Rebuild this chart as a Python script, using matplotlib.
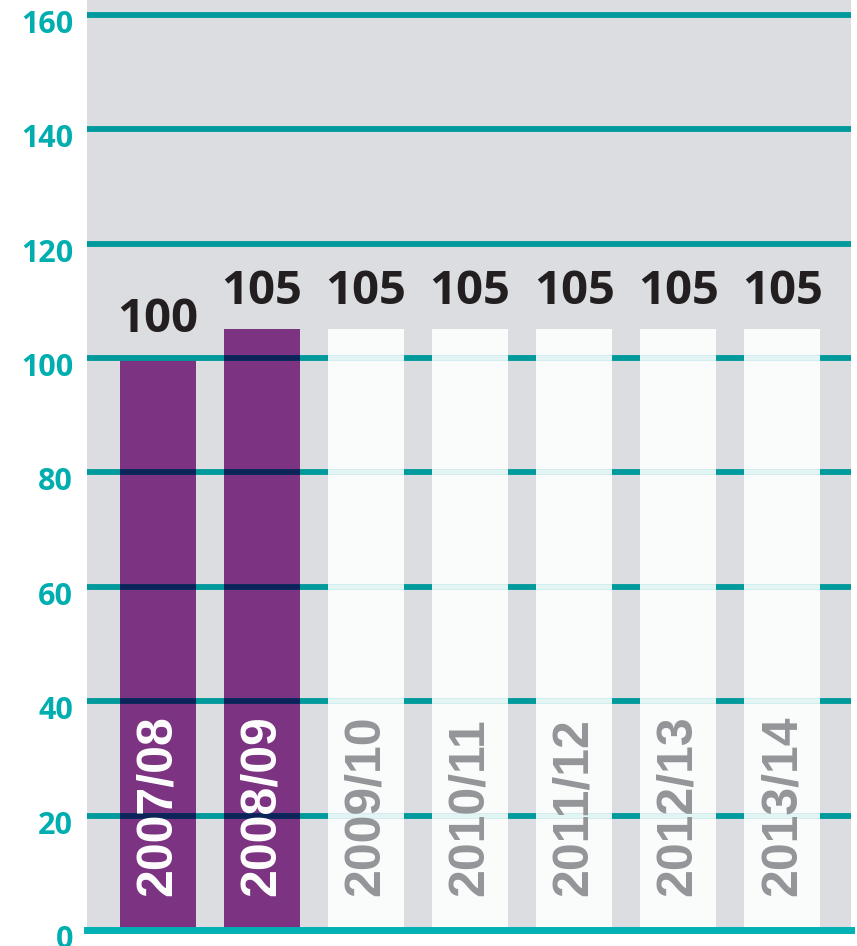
import matplotlib
matplotlib.use("Agg")
import matplotlib.pyplot as plt
import matplotlib.transforms as mtrans
import numpy as np

years = ["2007/08", "2008/09", "2009/10", "2010/11", "2011/12", "2012/13", "2013/14"]
values = [100, 105, 105, 105, 105, 105, 105]
actual = [True, True, False, False, False, False, False]
yticks = [0, 20, 40, 60, 80, 100, 120, 140, 160]

purple = "#7b3382"
pale = "#fafbfb"
bg = "#dcdde0"
teal = "#00999c"
teal0 = "#00b2b5"
tick_col = "#00aeb0"
grid_on_purple = "#0b2358"
grid_on_pale = "#e3f4f5"
FONT = ["Open Sans", "DejaVu Sans"]

fig = plt.figure(figsize=(8.57, 9.46), dpi=100)
ax = fig.add_axes([87/857, 16/946, (851-87)/857, (946-16)/946])
ax.set_facecolor(bg)
for s in ax.spines.values():
    s.set_visible(False)

x = np.arange(len(years))
w = 0.73
colors = [purple if a else pale for a in actual]
ax.bar(x, values, width=w, color=colors, zorder=2)

for t in yticks[1:]:
    ax.axhline(t, color=teal, lw=4.2, zorder=3)
    for xi, a, v in zip(x, actual, values):
        if t < v:
            ax.hlines(t, xi - w/2, xi + w/2, color=grid_on_purple if a else grid_on_pale,
                      lw=4.2, zorder=4)
ax.axhline(0, color=teal0, lw=5, zorder=5, clip_on=False)

ax.set_xlim(-0.68, 6.66)
ax.set_ylim(0, 162.6)
ax.set_yticks(yticks)
ax.set_yticklabels([str(t) for t in yticks], fontsize=22, fontweight="bold",
                   color=tick_col, family=FONT)
ax.tick_params(axis="y", length=0, pad=10)
off = mtrans.ScaledTranslation(0, -6.5/100, fig.dpi_scale_trans)
for lab in ax.get_yticklabels():
    lab.set_transform(lab.get_transform() + off)
ax.set_xticks([])

for xi, v in zip(x, values):
    ax.text(xi, v + 4.5, str(v), ha="center", va="baseline", fontsize=34, fontweight="bold",
            color="#231f20", family=FONT, zorder=6)

for xi, y, a in zip(x, years, actual):
    ax.text(xi, 6, y, rotation=90, ha="center", va="bottom", fontsize=36, fontweight="bold",
            color="white" if a else "#939598", family=["Liberation Sans", "DejaVu Sans"], zorder=6)

fig.savefig("out.png", dpi=100)
